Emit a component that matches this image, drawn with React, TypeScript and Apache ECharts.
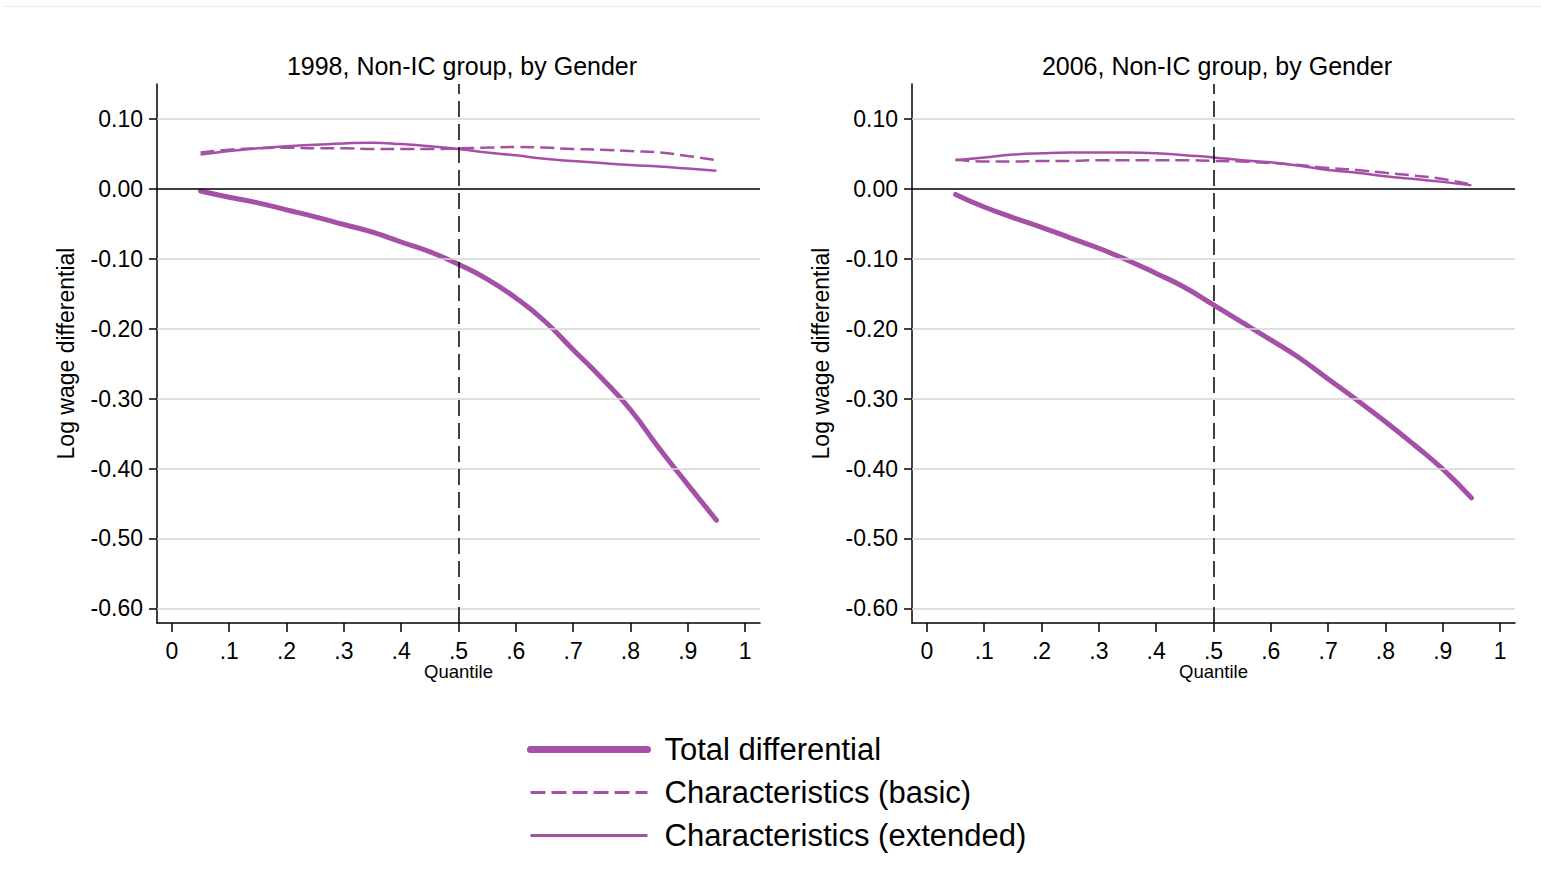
import React, { useEffect, useRef } from "react";
import * as echarts from "echarts";

const quantiles = [0.05, 0.1, 0.15, 0.2, 0.25, 0.3, 0.35, 0.4, 0.45, 0.5, 0.55, 0.6, 0.65, 0.7, 0.75, 0.8, 0.85, 0.9, 0.95];

const total1998 = [-0.003, -0.012, -0.02, -0.03, -0.04, -0.051, -0.062, -0.076, -0.09, -0.108, -0.129, -0.156, -0.189, -0.23, -0.271, -0.316, -0.371, -0.423, -0.474];
const basic1998 = [0.052, 0.056, 0.058, 0.059, 0.058, 0.058, 0.057, 0.057, 0.057, 0.058, 0.059, 0.06, 0.059, 0.057, 0.056, 0.054, 0.052, 0.047, 0.041];
const extended1998 = [0.049, 0.054, 0.058, 0.061, 0.063, 0.065, 0.066, 0.064, 0.061, 0.057, 0.052, 0.048, 0.043, 0.04, 0.037, 0.034, 0.032, 0.029, 0.026];

const total2006 = [-0.008, -0.026, -0.041, -0.055, -0.07, -0.085, -0.102, -0.121, -0.141, -0.166, -0.191, -0.216, -0.242, -0.272, -0.302, -0.333, -0.366, -0.401, -0.442];
const basic2006 = [0.042, 0.039, 0.039, 0.04, 0.04, 0.041, 0.041, 0.041, 0.041, 0.04, 0.039, 0.037, 0.034, 0.03, 0.027, 0.023, 0.019, 0.014, 0.006];
const extended2006 = [0.041, 0.045, 0.049, 0.051, 0.052, 0.052, 0.052, 0.051, 0.048, 0.045, 0.041, 0.038, 0.033, 0.027, 0.023, 0.018, 0.014, 0.01, 0.005];

const xTicks = [0, 0.1, 0.2, 0.3, 0.4, 0.5, 0.6, 0.7, 0.8, 0.9, 1];
const yTicks = [0.1, 0, -0.1, -0.2, -0.3, -0.4, -0.5, -0.6];
const gridValues = [0.1, -0.1, -0.2, -0.3, -0.4, -0.5, -0.6];
const panelTitles = ["1998, Non-IC group, by Gender", "2006, Non-IC group, by Gender"];
const seriesNames = ["Total differential", "Characteristics (basic)", "Characteristics (extended)"];
const medianQuantile = 0.5;

const PURPLE = "#A550A7";
const FONT = "'Liberation Sans', Arial, sans-serif";

function pairs(vals: number[]) {
  return quantiles.map((q, i) => [q, vals[i]]);
}

export default function App() {
  const ref = useRef<HTMLDivElement>(null);

  useEffect(() => {
    if (!ref.current) return;
    const chart = echarts.init(ref.current, null, { renderer: "svg" });

    const panels = [
      { total: total1998, basic: basic1998, extended: extended1998 },
      { total: total2006, basic: basic2006, extended: extended2006 },
    ];
    const lefts = [157, 912];

    const grid = lefts.map((l) => ({ left: l, top: 84, width: 603, height: 539, containLabel: false }));

    const xAxis = lefts.map((_, i) => ({
      type: "value" as const,
      gridIndex: i,
      min: -0.026,
      max: 1.026,
      name: "Quantile",
      nameLocation: "middle" as const,
      nameGap: 39,
      nameMoveOverlap: false,
      nameTextStyle: { fontSize: 18.5, color: "#000", fontFamily: FONT },
      axisLine: { show: true, onZero: false, lineStyle: { color: "#000", width: 1.5 } },
      axisTick: { show: true, length: 9, customValues: xTicks, lineStyle: { color: "#000", width: 1.5 } },
      axisLabel: {
        show: true,
        customValues: xTicks,
        margin: 16,
        fontSize: 23,
        color: "#000",
        fontFamily: FONT,
        formatter: (v: number) => (v === 0 ? "0" : v === 1 ? "1" : "." + Math.round(v * 10)),
      },
      splitLine: { show: false },
    }));

    const yAxis = lefts.map((_, i) => ({
      type: "value" as const,
      gridIndex: i,
      min: -0.621,
      max: 0.15,
      name: "Log wage differential",
      nameLocation: "middle" as const,
      nameRotate: 90,
      nameGap: 80,
      nameMoveOverlap: false,
      nameTextStyle: { fontSize: 23, color: "#000", fontFamily: FONT },
      axisLine: { show: true, onZero: false, lineStyle: { color: "#000", width: 1.5 } },
      axisTick: { show: true, length: 8, customValues: yTicks, lineStyle: { color: "#000", width: 1.5 } },
      axisLabel: {
        show: true,
        customValues: yTicks,
        margin: 14,
        fontSize: 23,
        color: "#000",
        fontFamily: FONT,
        formatter: (v: number) => v.toFixed(2),
      },
      splitLine: { show: false },
    }));

    const series: any[] = [];
    panels.forEach((p, i) => {
      series.push({
        type: "line",
        name: "",
        xAxisIndex: i,
        yAxisIndex: i,
        data: [[medianQuantile, 0]],
        symbol: "none",
        lineStyle: { width: 0 },
        silent: true,
        z: 1,
        markLine: {
          silent: true,
          symbol: ["none", "none"],
          label: { show: false },
          emphasis: { disabled: true },
          data: [
            ...gridValues.map((v) => ({ yAxis: v, lineStyle: { color: "#d6d6d6", width: 1.5, type: "solid" } })),
            { yAxis: 0, lineStyle: { color: "#000", width: 1.5, type: "solid" } },
            { xAxis: medianQuantile, lineStyle: { color: "#000", width: 1.5, type: [16, 7] } },
          ],
        },
      });
      series.push({
        type: "line",
        name: seriesNames[0],
        xAxisIndex: i,
        yAxisIndex: i,
        data: pairs(p.total),
        symbol: "none",
        smooth: 0.5,
        z: 3,
        lineStyle: { color: PURPLE, width: 5, cap: "round" },
        itemStyle: { color: PURPLE },
      });
      series.push({
        type: "line",
        name: seriesNames[1],
        xAxisIndex: i,
        yAxisIndex: i,
        data: pairs(p.basic),
        symbol: "none",
        smooth: 0.5,
        z: 3,
        lineStyle: { color: PURPLE, width: 2.5, type: [14, 6] },
        itemStyle: { color: PURPLE },
      });
      series.push({
        type: "line",
        name: seriesNames[2],
        xAxisIndex: i,
        yAxisIndex: i,
        data: pairs(p.extended),
        symbol: "none",
        smooth: 0.5,
        z: 3,
        lineStyle: { color: PURPLE, width: 2.5 },
        itemStyle: { color: PURPLE },
      });
    });

    chart.setOption({
      animation: false,
      backgroundColor: "#fff",
      title: panelTitles.map((t, i) => ({
        text: t,
        left: lefts[i] + 305,
        top: 53,
        textAlign: "center",
        padding: 0,
        textStyle: { fontSize: 25, fontWeight: "normal", color: "#000", fontFamily: FONT },
      })),
      legend: {
        orient: "vertical",
        left: 522,
        top: 729,
        itemWidth: 117,
        itemHeight: 30,
        itemGap: 12,
        selectedMode: false,
        itemStyle: { opacity: 0 },
        textStyle: { fontSize: 31, color: "#000", fontFamily: FONT, padding: [0, 0, 0, 12] },
        data: [
          { name: seriesNames[0], itemStyle: { opacity: 0 }, lineStyle: { width: 7, color: PURPLE, cap: "round" } },
          { name: seriesNames[1], itemStyle: { opacity: 0 }, lineStyle: { width: 3, color: PURPLE, type: [15, 6] } },
          { name: seriesNames[2], itemStyle: { opacity: 0 }, lineStyle: { width: 3, color: PURPLE } },
        ],
      },
      graphic: [
        { type: "line", shape: { x1: 3, y1: 6.5, x2: 1541, y2: 6.5 }, style: { stroke: "#e8eeee", lineWidth: 1 }, silent: true },
      ],
      grid,
      xAxis,
      yAxis,
      series,
    });

    return () => chart.dispose();
  }, []);

  return <div ref={ref} style={{ position: "absolute", left: 0, top: 0, width: 1541, height: 890 }} />;
}
